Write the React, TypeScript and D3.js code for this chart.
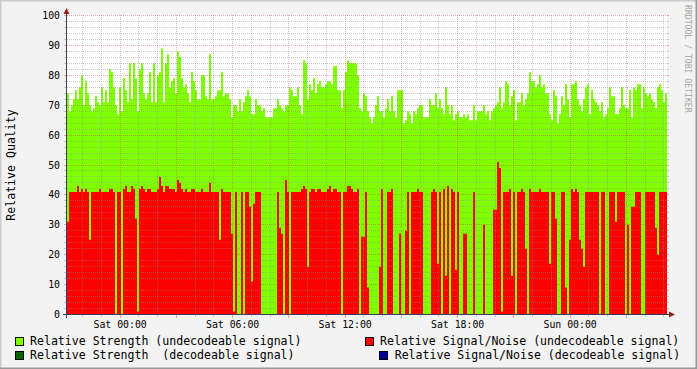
import React from "react";
import * as d3 from "d3";

// ---- data (one value per 6.4-minute step, starting Fri 21:10) ----
const startTime = new Date(2024, 0, 5, 21, 10);
const stepMinutes = 6.4;

const strengthUndecodeable: number[] = [
  74, 68, 70, 72, 75, 72, 76, 80, 70, 78,
  74, 70, 68, 69, 73, 71, 70, 76, 71, 75,
  71, 82, 81, 76, 70, 67, 76, 68, 79, 75,
  71, 84, 72, 84, 79, 68, 82, 84, 74, 72,
  74, 81, 71, 84, 71, 80, 81, 89, 71, 84,
  87, 76, 78, 79, 74, 88, 86, 79, 76, 77,
  74, 71, 81, 78, 75, 72, 72, 80, 80, 73,
  72, 87, 72, 72, 73, 75, 75, 81, 73, 74,
  74, 72, 66, 70, 70, 68, 72, 68, 71, 73,
  75, 73, 67, 67, 72, 70, 70, 68, 69, 66,
  66, 66, 66, 69, 69, 72, 70, 69, 68, 70,
  70, 76, 75, 73, 73, 76, 70, 67, 85, 84,
  72, 77, 75, 79, 74, 77, 78, 76, 76, 77,
  78, 78, 77, 83, 83, 75, 75, 69, 75, 81,
  85, 84, 84, 84, 84, 80, 69, 68, 74, 73,
  68, 66, 64, 66, 70, 73, 68, 68, 66, 69,
  72, 68, 73, 68, 66, 75, 75, 75, 64, 65,
  68, 67, 64, 68, 67, 69, 70, 70, 66, 66,
  66, 72, 70, 70, 74, 69, 72, 69, 67, 76,
  70, 67, 70, 65, 67, 68, 66, 66, 67, 66,
  67, 65, 65, 70, 65, 68, 68, 68, 70, 67,
  68, 65, 68, 69, 70, 71, 76, 69, 71, 78,
  77, 70, 73, 75, 65, 71, 71, 74, 70, 72,
  74, 81, 78, 78, 76, 77, 80, 76, 77, 74,
  74, 67, 65, 75, 73, 64, 67, 73, 70, 77,
  72, 66, 77, 77, 78, 72, 70, 68, 72, 76,
  77, 67, 75, 72, 71, 70, 68, 71, 66, 67,
  69, 76, 73, 73, 67, 67, 69, 76, 70, 69,
  69, 75, 66, 76, 75, 77, 77, 69, 76, 74,
  73, 74, 72, 71, 69, 76, 77, 75, 71, 74,
];

const signalNoiseUndecodeable: number[] = [
  31, 41, 41, 41, 41, 43, 41, 42, 41, 42,
  41, 25, 41, 41, 41, 41, 42, 41, 41, 41,
  41, 42, 42, 41, 0, 41, 41, 0, 42, 43,
  41, 41, 43, 42, 32, 1, 42, 43, 42, 41,
  42, 42, 41, 41, 41, 42, 46, 43, 41, 43,
  43, 42, 42, 42, 41, 45, 44, 42, 41, 42,
  41, 41, 42, 42, 41, 41, 41, 42, 41, 41,
  41, 44, 41, 41, 41, 41, 25, 42, 41, 41,
  41, 41, 27, 1, 41, 0, 0, 41, 0, 41,
  41, 36, 11, 37, 41, 41, 41, 0, 0, 0,
  0, 0, 0, 0, 0, 41, 29, 27, 0, 45,
  41, 0, 41, 41, 41, 41, 41, 42, 43, 42,
  16, 41, 42, 42, 41, 42, 42, 41, 41, 41,
  42, 43, 41, 42, 42, 41, 41, 0, 41, 41,
  43, 43, 42, 41, 41, 42, 0, 26, 26, 41,
  9, 0, 0, 0, 0, 0, 16, 42, 0, 0,
  41, 41, 42, 0, 0, 0, 27, 0, 0, 28,
  41, 0, 41, 41, 41, 42, 41, 41, 0, 0,
  0, 0, 41, 42, 41, 17, 41, 0, 42, 13,
  43, 0, 42, 41, 15, 41, 0, 0, 27, 27,
  0, 0, 0, 41, 0, 0, 0, 0, 30, 0,
  0, 0, 0, 35, 35, 51, 49, 1, 41, 41,
  41, 42, 13, 41, 0, 41, 41, 42, 41, 22,
  0, 42, 41, 41, 41, 41, 42, 41, 41, 41,
  41, 17, 41, 41, 32, 0, 0, 41, 41, 9,
  0, 25, 42, 41, 42, 41, 25, 22, 16, 41,
  41, 41, 41, 41, 41, 41, 0, 41, 41, 0,
  0, 41, 41, 41, 31, 41, 41, 41, 41, 0,
  30, 0, 36, 36, 41, 41, 41, 0, 0, 41,
  41, 41, 41, 41, 29, 20, 41, 41, 41, 41,
];

const yLabelValues = [0, 10, 20, 30, 40, 50, 60, 70, 80, 90, 100];
const yMinorValues = d3.range(2, 101, 2);
const yTitle = "Relative Quality";
const watermark = "RRDTOOL / TOBI OETIKER";
const legendRow1 = [
  { label: "Relative Strength (undecodeable signal)", color: "#80FF00" },
  { label: "Relative Signal/Noise (undecodeable signal)", color: "#FF0000" },
];
const legendRow2 = [
  { label: "Relative Strength  (decodeable signal)", color: "#006600" },
  { label: "Relative Signal/Noise (decodeable signal)", color: "#000099" },
];

const FONT = "DejaVu Sans Mono";
const GRID = "rgba(140,140,140,0.45)";
const MGRID = "rgba(190,40,40,0.38)";
const AXIS = "#3c3c5a";
const ARROW = "#9b1c1c";

export default function App() {
  const W = 697;
  const H = 369;
  const n = strengthUndecodeable.length;
  const stepMs = stepMinutes * 60000;
  const timeAt = (i: number) => new Date(startTime.getTime() + i * stepMs);
  const endTime = timeAt(n);

  const x = d3.scaleTime().domain([startTime, endTime]).range([67, 667]);
  const y = d3.scaleLinear().domain([0, 100]).range([314.5, 15.5]);

  const ext = (a: number[]) => [...a, a[a.length - 1]];
  const area = d3
    .area<number>()
    .x((_, i) => x(timeAt(i)))
    .y0(y(0))
    .y1((d) => y(d))
    .curve(d3.curveStepAfter);

  const hours = d3.timeHour.range(d3.timeHour.ceil(startTime), endTime);
  const fmt = d3.timeFormat("%a %H:%M");
  const px = (v: number) => Math.floor(v) + 0.5;

  return (
    <svg
      width={W}
      height={H}
      style={{ position: "absolute", left: 0, top: 0 }}
      xmlns="http://www.w3.org/2000/svg"
    >
      <rect x={0} y={0} width={W} height={H} fill="#F3F3F3" />
      {/* bevel frame */}
      <path d={`M0,${H} L0,0 L${W},0`} stroke="#CBCBCB" strokeWidth={3} fill="none" />
      <path d={`M0,${H} L${W},${H} L${W},0`} stroke="#999999" strokeWidth={3} fill="none" />

      {/* canvas */}
      <rect x={67} y={15} width={600} height={300} fill="#FFFFFF" />

      {/* areas */}
      <path d={area(ext(strengthUndecodeable)) || ""} fill="#80FF00" />
      <path d={area(ext(signalNoiseUndecodeable)) || ""} fill="#FF0000" />

      {/* horizontal grid */}
      {yMinorValues.map((v) => {
        const yy = px(y(v));
        const major = v % 10 === 0;
        const c = major ? MGRID : GRID;
        return (
          <g key={"h" + v}>
            <line x1={67} x2={667} y1={yy} y2={yy} stroke={c} strokeDasharray="1,1" />
            <line x1={64} x2={67} y1={yy} y2={yy} stroke={c} />
            <line x1={667} x2={669} y1={yy} y2={yy} stroke={c} />
          </g>
        );
      })}

      {/* vertical grid */}
      {hours.map((h) => {
        const xx = px(x(h));
        const major = h.getHours() % 3 === 0;
        const c = major ? MGRID : GRID;
        return (
          <g key={"v" + h.getTime()}>
            <line x1={xx} x2={xx} y1={15} y2={314} stroke={c} strokeDasharray="1,1" />
            <line x1={xx} x2={xx} y1={315} y2={major ? 318 : 317} stroke={c} />
          </g>
        );
      })}

      {/* axes */}
      <line x1={63} x2={670} y1={314.5} y2={314.5} stroke={AXIS} />
      <line x1={66.5} x2={66.5} y1={318} y2={12} stroke={AXIS} />
      <polygon points="63.5,14 69.5,14 66.5,8" fill={ARROW} />
      <polygon points="669,311.5 669,317.5 675,314.5" fill={ARROW} />

      {/* y labels */}
      {yLabelValues.map((v) => (
        <text
          key={"yl" + v}
          x={60}
          y={px(y(v)) + 3.5}
          textAnchor="end"
          fontFamily={FONT}
          fontSize={9.85}
          fill="#000"
        >
          {v}
        </text>
      ))}

      {/* x labels */}
      {hours
        .filter((h) => h.getHours() % 6 === 0)
        .map((h) => (
          <text
            key={"xl" + h.getTime()}
            x={x(h)}
            y={327.5}
            textAnchor="middle"
            fontFamily={FONT}
            fontSize={9.85}
            fill="#000"
          >
            {fmt(h)}
          </text>
        ))}

      {/* y title */}
      <text
        transform="translate(14.5,165) rotate(-90)"
        textAnchor="middle"
        fontFamily={FONT}
        fontSize={11.57}
        fill="#000"
      >
        {yTitle}
      </text>

      {/* watermark */}
      <text
        transform="translate(685,5) rotate(90)"
        fontFamily={FONT}
        fontSize={8.15}
        fill="#A5A5A5"
      >
        {watermark}
      </text>

      {/* legend */}
      <g fontFamily={FONT} fontSize={11.57} fill="#000">
        <rect x={15.5} y={337.5} width={8} height={8} fill={legendRow1[0].color} stroke="#000" />
        <text x={30} y={345} style={{ whiteSpace: "pre" }}>{legendRow1[0].label}</text>
        <rect x={365.5} y={337.5} width={8} height={8} fill={legendRow1[1].color} stroke="#000" />
        <text x={380} y={345} style={{ whiteSpace: "pre" }}>{legendRow1[1].label}</text>
        <rect x={15.5} y={351.5} width={8} height={8} fill={legendRow2[0].color} stroke="#000" />
        <text x={30} y={359} style={{ whiteSpace: "pre" }}>{legendRow2[0].label}</text>
        <rect x={379.5} y={351.5} width={8} height={8} fill={legendRow2[1].color} stroke="#000" />
        <text x={394.7} y={359} style={{ whiteSpace: "pre" }}>{legendRow2[1].label}</text>
      </g>
    </svg>
  );
}
